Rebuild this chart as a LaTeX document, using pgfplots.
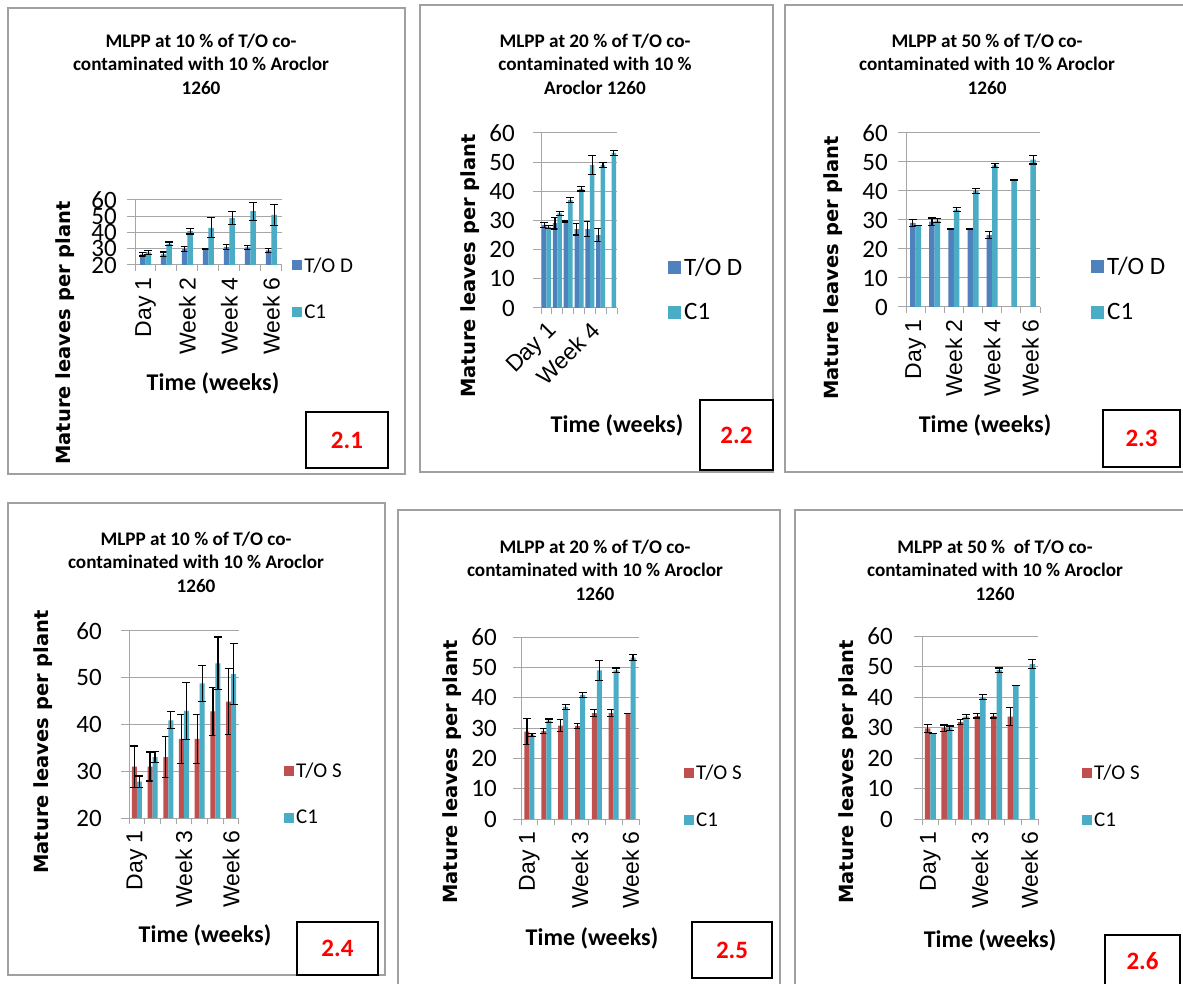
\documentclass[border=0pt]{standalone}
\usepackage{pgfplots}
\usepackage{pgfplotstable}
\pgfplotsset{compat=1.18}
\usepackage{fontspec}
\setmainfont{Carlito}
\newfontfamily\dejab{DejaVu Sans}
\newfontfamily\arialf{Liberation Sans}
\definecolor{cD}{HTML}{4F81BD}
\definecolor{cC}{HTML}{4BACC6}
\definecolor{cS}{HTML}{C0504D}
\definecolor{gridc}{HTML}{A6A6A6}
\definecolor{framec}{HTML}{A0A0A0}

% 2.1 T/O D
\pgfplotstableread{
x y e
0 26.5 1.0
1 26.5 1.5
2 29.8 1.5
3 29.6 0.3
4 31.0 1.7
5 30.8 1.3
6 29.0 1.3
}\dA
% C1 (10 %)
\pgfplotstableread{
x y e
0 27.8 1.2
1 33.0 1.2
2 40.9 1.8
3 42.9 6.1
4 48.8 3.9
5 53.1 5.6
6 50.8 6.6
}\cA
% 2.4 T/O S
\pgfplotstableread{
x y e
0 31.0 4.4
1 31.0 3.1
2 33.0 4.4
3 36.9 5.2
4 36.9 5.2
5 42.8 5.1
6 44.9 7.1
}\sA
% 2.2 T/O D
\pgfplotstableread{
x y e
0 28.5 0.8
1 29.1 2.0
2 29.5 0.3
3 27.0 2.0
4 27.0 2.6
5 25.0 2.2
}\dB
% C1 (20 %)
\pgfplotstableread{
x y e
0 27.8 0.5
1 32.4 0.6
2 37.0 0.8
3 40.9 0.8
4 49.0 3.3
5 49.0 0.8
6 53.2 0.9
}\cB
% 2.5 T/O S
\pgfplotstableread{
x y e
0 28.8 4.3
1 29.0 0.8
2 30.8 1.9
3 30.7 0.8
4 34.9 1.2
5 34.9 1.2
6 34.8 0.0
}\sB
% 2.3 T/O D
\pgfplotstableread{
x y e
0 29.0 1.3
1 29.4 1.3
2 26.9 0.0
3 26.9 0.0
4 24.8 1.3
}\dC
% C1 (50 %)
\pgfplotstableread{
x y e
0 28.0 0.0
1 29.8 0.7
2 33.6 0.7
3 40.0 0.8
4 48.8 0.7
5 43.8 0.0
6 50.8 1.5
}\cC
% 2.6 T/O S
\pgfplotstableread{
x y e
0 29.7 1.3
1 29.8 1.0
2 31.8 0.7
3 33.8 0.7
4 33.8 0.7
5 33.6 3.0
}\sC

\pgfplotsset{
  panel/.style={
    scale only axis,
    anchor=south west,
    axis lines*=left,
    axis line style={gridc, line width=1pt},
    ymajorgrids,
    grid style={gridc, line width=1pt},
    xmin=-0.5, xmax=6.5,
    xtick={0,...,6},
    minor xtick={-0.5,0.5,...,6.5},
    major x tick style={draw=none},
    minor x tick style={gridc, line width=1pt},
    y tick style={gridc, line width=1pt},
    tick align=outside,
    major tick length=8pt, minor tick length=6pt,
    ytick distance=10,
    /pgf/number format/assume math mode=true,
    yticklabel style={font=\fontsize{25}{25}\selectfont, inner sep=0pt},
    xticklabel style={font=\arialf\fontsize{23}{23}\selectfont, rotate=90, anchor=east, inner sep=0pt},
    xticklabel shift=4pt,
    ybar=0pt,
    clip=false,
    legend style={draw=none, fill=none, anchor=west,
      font=\fontsize{21}{21}\selectfont, row sep=27pt,
      nodes={inner sep=2pt}},
    legend cell align=left,
    legend image code/.code={\draw[##1,/tikz/.cd,draw=none] (0pt,-5pt) rectangle (10pt,5pt);},
    error bars/y dir=both,
    error bars/y explicit,
    error bars/error bar style={black, line width=1.2pt},
    error bars/error mark options={black, rotate=90, mark size=4pt, line width=1.2pt},
  },
  biglegend/.style={
    legend style={font=\fontsize{25}{25}\selectfont, row sep=21pt, nodes={inner sep=3pt}},
    legend image code/.code={\draw[##1,/tikz/.cd,draw=none] (0pt,-6.5pt) rectangle (13pt,6.5pt);},
  },
}
\tikzset{
  ttl/.style={align=center, font=\bfseries\fontsize{19.2}{23.5}\selectfont},
  ylab/.style={rotate=90, font=\dejab\bfseries\fontsize{19.5}{19.5}\selectfont},
  xlab/.style={font=\bfseries\fontsize{24}{24}\selectfont},
  boxl/.style={draw=black, line width=1.5pt, text=red, font=\bfseries\fontsize{25}{25}\selectfont},
}

\begin{document}
\begin{tikzpicture}
\useasboundingbox (0pt,0pt) rectangle (1183pt,983pt);
\fill[white] (0pt,0pt) rectangle (1183pt,983pt);
% frames
\draw[framec, line width=1.5pt] (8pt,975pt) rectangle (405pt,509pt);
\draw[framec, line width=1.5pt] (420pt,978pt) rectangle (773pt,511pt);
\draw[framec, line width=1.5pt] (785pt,978pt) rectangle (1195pt,511pt);
\draw[framec, line width=1.5pt] (8pt,480pt) rectangle (385pt,8pt);
\draw[framec, line width=1.5pt] (398pt,473pt) rectangle (780pt,-10pt);
\draw[framec, line width=1.5pt] (795pt,473pt) rectangle (1195pt,-10pt);

% titles
\node[ttl] at (201pt,919pt) {MLPP at 10 \% of T/O co-\\contaminated with 10 \% Aroclor\\1260};
\node[ttl] at (595pt,919pt) {MLPP at 20 \% of T/O co-\\contaminated with 10 \%\\Aroclor 1260};
\node[ttl] at (987pt,919pt) {MLPP at 50 \% of T/O co-\\contaminated with 10 \% Aroclor\\1260};
\node[ttl] at (196pt,421pt) {MLPP at 10 \% of T/O co-\\contaminated with 10 \% Aroclor\\1260};
\node[ttl] at (595pt,413pt) {MLPP at 20 \% of T/O co-\\contaminated with 10 \% Aroclor\\1260};
\node[ttl] at (995pt,413pt) {MLPP at 50 \%\ \ of T/O co-\\contaminated with 10 \% Aroclor\\1260};

% y labels
\node[ylab] at (65pt,650pt) {Mature leaves per plant};
\node[ylab] at (470pt,717pt) {Mature leaves per plant};
\node[ylab] at (833pt,715pt) {Mature leaves per plant};
\node[ylab] at (43pt,241pt) {Mature leaves per plant};
\node[ylab] at (452pt,211pt) {Mature leaves per plant};
\node[ylab] at (848pt,211pt) {Mature leaves per plant};

% x labels
\node[xlab] at (213pt,600pt) {Time (weeks)};
\node[xlab] at (617pt,558pt) {Time (weeks)};
\node[xlab] at (985pt,558pt) {Time (weeks)};
\node[xlab] at (205pt,48pt) {Time (weeks)};
\node[xlab] at (592pt,45pt) {Time (weeks)};
\node[xlab] at (990pt,43pt) {Time (weeks)};

% boxes
\node[boxl, minimum width=82pt, minimum height=56pt] at (347pt,543pt) {2.1};
\node[boxl, minimum width=73pt, minimum height=70pt] at (736.5pt,548pt) {2.2};
\node[boxl, minimum width=77pt, minimum height=57pt] at (1141.5pt,544.5pt) {2.3};
\node[boxl, minimum width=81pt, minimum height=53pt] at (337.5pt,34.5pt) {2.4};
\node[boxl, minimum width=80pt, minimum height=56pt] at (732pt,33pt) {2.5};
\node[boxl, minimum width=75pt, minimum height=52pt] at (1142.5pt,22pt) {2.6};

% 2.1
\begin{axis}[panel, at={(135pt,718pt)}, width=147pt, height=65pt,
  ymin=20, ymax=60, bar width=5.5pt,
  yticklabel style={xshift=-10pt},
  xticklabels={Day 1,{},Week 2,{},Week 4,{},Week 6},
  legend style={at={(1.048,-0.362)}}]
\addplot[fill=cD, draw=none] table[x=x,y=y,y error=e] {\dA};
\addplot[fill=cC, draw=none] table[x=x,y=y,y error=e] {\cA};
\legend{T/O D, C1}
\end{axis}

% 2.2
\begin{axis}[panel, biglegend, at={(541pt,675pt)}, width=76pt, height=175pt,
  ymin=0, ymax=60, bar width=4.5pt,
  yticklabel style={xshift=-18pt},
  xticklabels={Day 1,{},{},{},Week 4,{},{}},
  xticklabel style={rotate=-45, anchor=north east},
  legend style={at={(1.632,0.106)}}]
\addplot[fill=cD, draw=none] table[x=x,y=y,y error=e] {\dB};
\addplot[fill=cC, draw=none] table[x=x,y=y,y error=e] {\cB};
\legend{T/O D, C1}
\end{axis}

% 2.3
\begin{axis}[panel, biglegend, at={(906pt,676pt)}, width=134pt, height=174pt,
  ymin=0, ymax=60, bar width=5.5pt,
  yticklabel style={xshift=-10pt},
  xticklabels={Day 1,{},Week 2,{},Week 4,{},Week 6},
  legend style={at={(1.358,0.103)}}]
\addplot[fill=cD, draw=none] table[x=x,y=y,y error=e] {\dC};
\addplot[fill=cC, draw=none] table[x=x,y=y,y error=e] {\cC};
\legend{T/O D, C1}
\end{axis}

% 2.4
\begin{axis}[panel, at={(129pt,165pt)}, width=110pt, height=187pt,
  ymin=20, ymax=60, bar width=5pt,
  yticklabel style={xshift=-19pt},
  xticklabels={Day 1,{},{},Week 3,{},{},Week 6},
  legend style={at={(1.382,0.128)}}]
\addplot[fill=cS, draw=none] table[x=x,y=y,y error=e] {\sA};
\addplot[fill=cC, draw=none] table[x=x,y=y,y error=e] {\cA};
\legend{T/O S, C1}
\end{axis}

% 2.5
\begin{axis}[panel, at={(521pt,164pt)}, width=118pt, height=182pt,
  ymin=0, ymax=60, bar width=5pt,
  yticklabel style={xshift=-16pt},
  xticklabels={Day 1,{},{},Week 3,{},{},Week 6},
  legend style={at={(1.356,0.124)}}]
\addplot[fill=cS, draw=none] table[x=x,y=y,y error=e] {\sB};
\addplot[fill=cC, draw=none] table[x=x,y=y,y error=e] {\cB};
\legend{T/O S, C1}
\end{axis}

% 2.6
\begin{axis}[panel, at={(922pt,164pt)}, width=116pt, height=183pt,
  ymin=0, ymax=60, bar width=5.5pt,
  yticklabel style={xshift=-21pt},
  xticklabels={Day 1,{},{},Week 3,{},{},Week 6},
  legend style={at={(1.353,0.123)}}]
\addplot[fill=cS, draw=none] table[x=x,y=y,y error=e] {\sC};
\addplot[fill=cC, draw=none] table[x=x,y=y,y error=e] {\cC};
\legend{T/O S, C1}
\end{axis}
\end{tikzpicture}
\end{document}
